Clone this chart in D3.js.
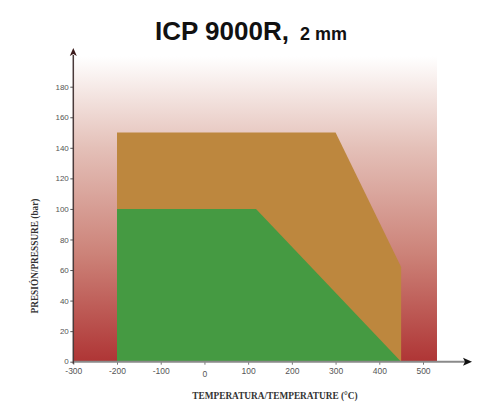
<!DOCTYPE html>
<html><head><meta charset="utf-8">
<script src="https://cdn.jsdelivr.net/npm/d3@7"></script>
<style>body{margin:0;background:#fff;}svg{display:block;}</style>
</head><body><svg id="c" width="500" height="414"></svg>
<script>
// Data
const xTicks = [-300,-200,-100,0,100,200,300,400,500];
const yTicks = [0,20,40,60,80,100,120,140,160,180];
const bgExtent = {tMin:-300, tMax:532, pMin:0, pMax:200};
const outerTemp = [-200,-200,300,450,450];
const outerPress = [0,150,150,62,0];
const innerTemp = [-200,-200,118,450];
const innerPress = [0,100,100,0];

const svg = d3.select("#c");
const x = d3.scaleLinear().domain([-300,500]).range([73.3,423]);
const y = d3.scaleLinear().domain([0,180]).range([361.7,86.7]);

const defs = svg.append("defs");
const g = defs.append("linearGradient").attr("id","bg").attr("x1",0).attr("y1",0).attr("x2",0).attr("y2",1);
g.append("stop").attr("offset","0%").attr("stop-color","#ffffff");
g.append("stop").attr("offset","30%").attr("stop-color","#e4c0b8");
g.append("stop").attr("offset","65%").attr("stop-color","#cc8278");
g.append("stop").attr("offset","100%").attr("stop-color","#af3535");

svg.append("rect")
  .attr("x",x(bgExtent.tMin)).attr("y",y(bgExtent.pMax))
  .attr("width",x(bgExtent.tMax)-x(bgExtent.tMin))
  .attr("height",y(bgExtent.pMin)-y(bgExtent.pMax))
  .attr("fill","url(#bg)");

const line = d3.line().x(d=>x(d[0])).y(d=>y(d[1]));
svg.append("path").attr("d", line(outerTemp.map((t,i)=>[t,outerPress[i]]))+"Z").attr("fill","#bd873e");
svg.append("path").attr("d", line(innerTemp.map((t,i)=>[t,innerPress[i]]))+"Z").attr("fill","#459a42");

// x axis
const xa = svg.append("g").attr("transform",`translate(0,${y(0)})`)
  .call(d3.axisBottom(x).tickValues(xTicks).tickSize(3).tickPadding(3).tickFormat(d=>String(d)));
xa.select(".domain").remove();
xa.selectAll("line").attr("stroke","#777");
xa.selectAll("text").attr("fill","#555").style("font-family","Liberation Sans, Arial, sans-serif").style("font-size","8.5px");
xa.selectAll(".tick").filter(d=>d===0).select("text").attr("dy","1.05em");

svg.append("line").attr("x1",x(-300)).attr("x2",466).attr("y1",y(0)).attr("y2",y(0))
  .attr("stroke","#8a8a8a").attr("stroke-width",2);
svg.append("path").attr("d",`M472,${y(0)} L463,${y(0)-4} L465,${y(0)} L463,${y(0)+4} Z`).attr("fill","#111");

// y axis
const ya = svg.append("g").attr("transform",`translate(${x(-300)},0)`)
  .call(d3.axisLeft(y).tickValues(yTicks).tickSize(3).tickPadding(1.5).tickFormat(d=>String(d)));
ya.select(".domain").remove();
ya.selectAll("line").attr("stroke","#555");
ya.selectAll("text").attr("fill","#555").style("font-family","Liberation Sans, Arial, sans-serif").style("font-size","8px");
ya.selectAll(".tick").filter(d=>d===0).select("text").attr("dy","0.2em");

svg.append("line").attr("x1",x(-300)).attr("x2",x(-300)).attr("y1",y(0)+2).attr("y2",55)
  .attr("stroke","#4a3a3a").attr("stroke-width",1.5);
svg.append("path").attr("d",`M${x(-300)},48 L${x(-300)-3.5},56 L${x(-300)},54 L${x(-300)+3.5},56 Z`).attr("fill","#3a1a1a");

// titles
const t = svg.append("text").attr("x",155).attr("y",40).attr("text-anchor","start")
  .style("font-family","Liberation Sans, Arial, sans-serif").style("font-weight","bold").attr("fill","#111");
t.append("tspan").style("font-size","26px").text("ICP 9000R,");
t.append("tspan").style("font-size","18px").attr("dx","11").text("2 mm");

svg.append("text").attr("x",275).attr("y",399).attr("text-anchor","middle")
  .style("font-family","Liberation Serif, Times New Roman, serif").style("font-size","9.3px").style("font-weight","bold")
  .attr("fill","#333").text("TEMPERATURA/TEMPERATURE (°C)");

svg.append("text").attr("transform","translate(38,256) rotate(-90)").attr("text-anchor","middle")
  .style("font-family","Liberation Serif, Times New Roman, serif").style("font-size","9.3px").style("font-weight","bold")
  .attr("fill","#333").text("PRESIÓN/PRESSURE (bar)");
</script></body></html>
